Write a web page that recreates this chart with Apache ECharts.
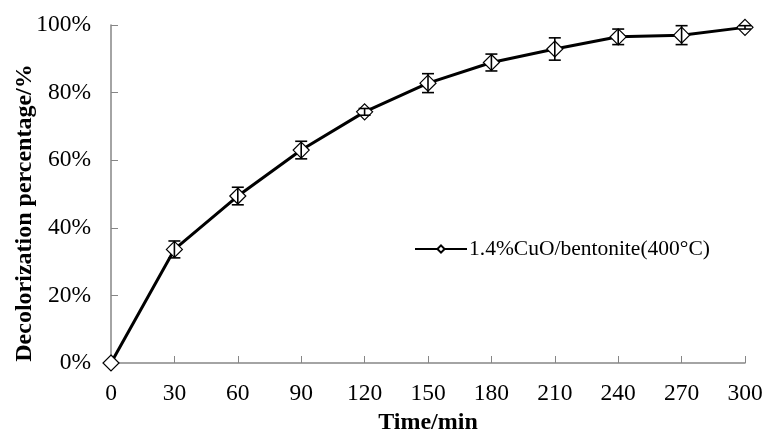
<!DOCTYPE html>
<html>
<head>
<meta charset="utf-8">
<script src="https://cdn.jsdelivr.net/npm/echarts@6/dist/echarts.min.js"></script>
<style>html,body{margin:0;padding:0;background:#fff}#c{width:763px;height:437px}</style>
</head>
<body>
<div id="c"></div>
<script>
const times = [0, 30, 60, 90, 120, 150, 180, 210, 240, 270, 300];
const decolorization = [0, 33.6, 49.4, 63.0, 74.3, 82.8, 88.9, 92.9, 96.5, 97.0, 99.3];
const errors = [0, 2.5, 2.6, 2.6, 1.0, 2.8, 2.5, 3.3, 2.3, 2.8, 0.5];
const seriesName = '1.4%CuO/bentonite(400°C)';
const xTitle = 'Time/min';
const yTitle = 'Decolorization percentage/%';

const lineData = times.map((t, i) => [t, decolorization[i]]);
const errData = times.map((t, i) => [t, decolorization[i], errors[i]]);

const FONT = 'Liberation Serif';
const chart = echarts.init(document.getElementById('c'), null, {renderer: 'canvas'});
chart.setOption({
  backgroundColor: '#ffffff',
  animation: false,
  textStyle: {fontFamily: FONT, color: '#000'},
  grid: {left: 111, right: 18, top: 25, bottom: 74, containLabel: false, outerBoundsMode: 'none'},
  legend: {
    data: [seriesName],
    left: 414, top: 238, padding: 0,
    itemWidth: 52, itemHeight: 9, itemGap: 4,
    textStyle: {fontFamily: FONT, fontSize: 21.5, color: '#000', padding: [0,0,0,-3]}
  },
  xAxis: {
    type: 'value', min: 0, max: 300, interval: 30,
    name: xTitle, nameLocation: 'middle', nameGap: 48, nameMoveOverlap: false,
    nameTextStyle: {fontFamily: FONT, fontSize: 24, fontWeight: 'bold', color: '#000'},
    axisLine: {show: true, lineStyle: {color: '#868686', width: 1.5}},
    axisTick: {show: true, inside: true, length: 7, lineStyle: {color: '#868686', width: 1}},
    axisLabel: {fontFamily: FONT, fontSize: 23.5, color: '#000', margin: 19},
    splitLine: {show: false}
  },
  yAxis: {
    type: 'value', min: 0, max: 100, interval: 20,
    name: yTitle, nameLocation: 'middle', nameGap: 74, nameMoveOverlap: false,
    nameTextStyle: {fontFamily: FONT, fontSize: 24, fontWeight: 'bold', color: '#000', padding: [0, 38, 0, 0]},
    axisLine: {show: true, lineStyle: {color: '#868686', width: 1.5}},
    axisTick: {show: true, inside: true, length: 7, lineStyle: {color: '#868686', width: 1}},
    axisLabel: {fontFamily: FONT, fontSize: 23.5, color: '#000', margin: 20, formatter: '{value}%'},
    splitLine: {show: false}
  },
  series: [
    {
      name: seriesName, type: 'line', data: lineData, clip: false,
      symbol: 'diamond', symbolSize: 16, showSymbol: true,
      lineStyle: {color: '#000', width: 3},
      itemStyle: {color: '#fff', borderColor: '#000', borderWidth: 1.2},
      z: 3
    },
    {
      name: 'err', type: 'custom', data: errData, clip: false, z: 4,
      renderItem: function (params, api) {
        const x = api.value(0), y = api.value(1), e = api.value(2);
        if (!e) return null;
        const top = api.coord([x, y + e]);
        const bot = api.coord([x, y - e]);
        const hw = 6;
        const style = {stroke: '#000', lineWidth: 1.6};
        return {
          type: 'group',
          children: [
            {type: 'line', shape: {x1: top[0], y1: top[1], x2: bot[0], y2: bot[1]}, style: style},
            {type: 'line', shape: {x1: top[0]-hw, y1: top[1], x2: top[0]+hw, y2: top[1]}, style: style},
            {type: 'line', shape: {x1: bot[0]-hw, y1: bot[1], x2: bot[0]+hw, y2: bot[1]}, style: style}
          ]
        };
      }
    }
  ]
});
</script>
</body>
</html>
